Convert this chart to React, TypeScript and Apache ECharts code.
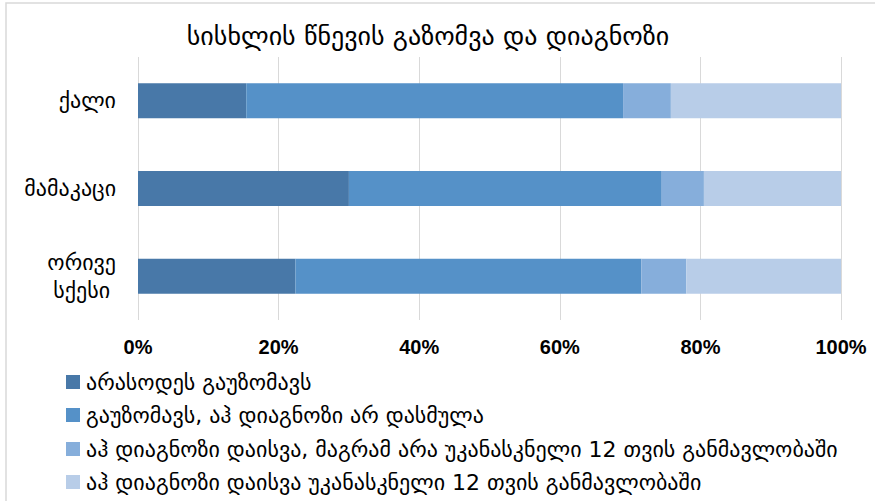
import React, { useEffect, useRef } from "react";
import * as echarts from "echarts";

const categories = ["ქალი", "მამაკაცი", "ორივე სქესი"];
const seriesNames = [
  "არასოდეს გაუზომავს",
  "გაუზომავს, აჰ დიაგნოზი არ დასმულა",
  "აჰ დიაგნოზი დაისვა, მაგრამ არა უკანასკნელი 12 თვის განმავლობაში",
  "აჰ დიაგნოზი დაისვა უკანასკნელი 12 თვის განმავლობაში",
];
const neverMeasured = [15.4, 30.0, 22.4];
const measuredNoDiagnosis = [53.6, 44.5, 49.2];
const diagnosedEarlier = [6.8, 6.0, 6.4];
const diagnosedLast12 = [24.2, 19.5, 22.0];
const xTicks = [0, 20, 40, 60, 80, 100];
const colors = ["#4878a8", "#5591c8", "#86aedb", "#b8cde8"];

const GEO_FONT = "'DejaVu Sans', sans-serif";
const legendTops = [366, 399, 433, 466];

export default function App() {
  const ref = useRef<HTMLDivElement>(null);
  useEffect(() => {
    document.body.style.margin = "0";
    const chart = echarts.init(ref.current!, null, { renderer: "svg" });
    const values = [neverMeasured, measuredNoDiagnosis, diagnosedEarlier, diagnosedLast12];
    chart.setOption({
      animation: false,
      backgroundColor: "#ffffff",
      title: {
        text: "სისხლის წნევის გაზომვა და დიაგნოზი",
        left: 423,
        textAlign: "center",
        top: 18,
        textStyle: { fontFamily: GEO_FONT, fontWeight: "normal", fontSize: 26, color: "#000" },
      },
      graphic: [
        {
          type: "rect",
          shape: { x: 6, y: 3, width: 900, height: 600 },
          style: { fill: "none", stroke: "#d9d9d9", lineWidth: 1.5 },
          silent: true,
        },
      ],
      legend: seriesNames.map((name, i) => ({
        orient: "vertical",
        left: 61,
        top: legendTops[i],
        itemWidth: 14,
        itemHeight: 14,
        icon: "rect",
        data: [name],
        textStyle: {
          fontFamily: GEO_FONT,
          fontSize: 22,
          color: "#000",
          padding: [0, 0, 0, 1],
        },
      })),
      grid: { left: 138, right: 34, top: 57, bottom: 181, containLabel: false },
      xAxis: {
        type: "value",
        min: 0,
        max: 100,
        interval: 20,
        axisLine: { show: false },
        axisTick: { show: false },
        splitLine: { show: true, lineStyle: { color: "#d9d9d9", width: 1 } },
        axisLabel: {
          margin: 17,
          formatter: (v: number) => (xTicks.includes(v) ? v + "%" : ""),
          fontFamily: "'Liberation Sans Narrow', 'Liberation Sans', sans-serif",
          fontWeight: "bold",
          fontSize: 20,
          color: "#000",
        },
      },
      yAxis: {
        type: "category",
        inverse: true,
        data: categories,
        axisLine: { show: false },
        axisTick: { show: false },
        axisLabel: {
          margin: 22,
          formatter: (v: string) =>
            v
              .split(" ")
              .map((w) => "{c|" + w + "}")
              .join("\n"),
          rich: {
            c: {
              fontFamily: GEO_FONT,
              fontSize: 22,
              color: "#000",
              lineHeight: 28,
              align: "center",
            },
          },
        },
      },
      series: seriesNames.map((name, i) => ({
        name,
        type: "bar",
        stack: "total",
        barWidth: 35,
        itemStyle: { color: colors[i] },
        data: values[i],
      })),
    });
    return () => chart.dispose();
  }, []);
  return <div ref={ref} style={{ width: 875, height: 501 }} />;
}
